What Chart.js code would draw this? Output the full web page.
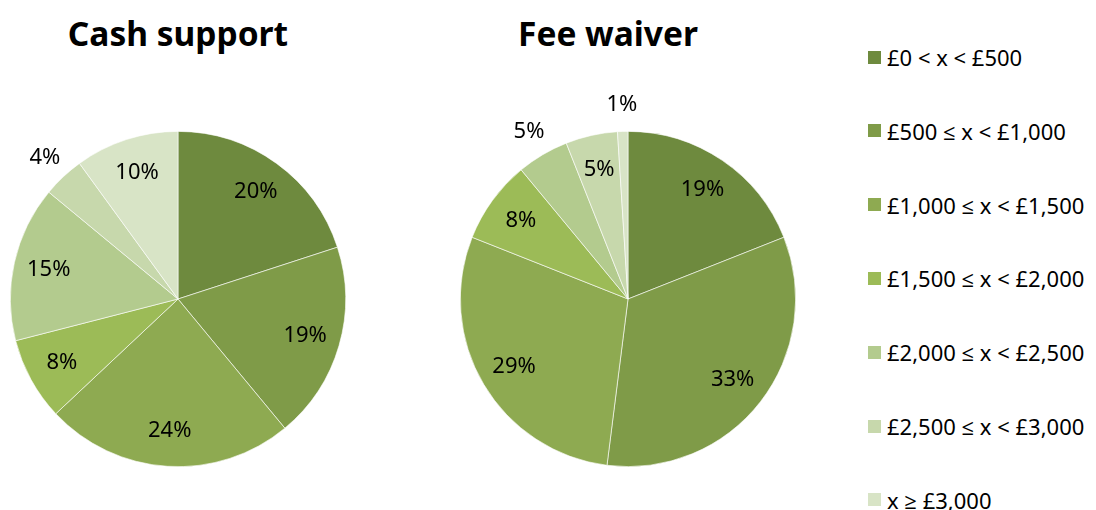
<!DOCTYPE html>
<html>
<head>
<meta charset="utf-8">
<script src="https://cdn.jsdelivr.net/npm/chart.js@4/dist/chart.umd.min.js"></script>
<style>
  html, body { margin: 0; padding: 0; background: #fff; }
  body { width: 1096px; height: 510px; position: relative; overflow: hidden; font-family: "Noto Sans", "Open Sans", sans-serif; }
  canvas { position: absolute; top: 0; }
  .title { position: absolute; top: 11px; font-weight: bold; font-size: 33.5px; line-height: 44px; color: #000; transform: translateX(-50%); white-space: nowrap; }
  .legend { position: absolute; left: 868px; top: 0; }
  .row { position: absolute; left: 0; height: 26px; display: flex; align-items: center; white-space: nowrap; font-size: 22px; color: #000; }
  .sw { width: 13px; height: 13px; margin-right: 6px; flex: none; }
</style>
</head>
<body>
<div class="title" id="t1" style="left:178px"></div>
<div class="title" id="t2" style="left:608px"></div>
<canvas id="c1" width="356" height="510" style="left:0px"></canvas>
<canvas id="c2" width="356" height="510" style="left:450px"></canvas>
<div class="legend" id="legend"></div>
<script>
const categories = ["£0 < x < £500", "£500 ≤ x < £1,000", "£1,000 ≤ x < £1,500", "£1,500 ≤ x < £2,000", "£2,000 ≤ x < £2,500", "£2,500 ≤ x < £3,000", "x ≥ £3,000"];
const chartTitles = ["Cash support", "Fee waiver"];
const cashSupport = [20, 19, 24, 8, 15, 4, 10];
const feeWaiver = [19, 33, 29, 8, 5, 5, 1];
const colors = ["#6e8a3e", "#7f9b48", "#8eaa51", "#9cbb57", "#b3cb8e", "#c7d8ac", "#d8e4c6"];

const labelPlugin = {
  id: 'pctLabels',
  afterDatasetsDraw(chart, args, opts) {
    const ctx = chart.ctx;
    const meta = chart.getDatasetMeta(0);
    const data = chart.data.datasets[0].data;
    ctx.save();
    ctx.font = '22px "Noto Sans", "Open Sans", sans-serif';
    ctx.fillStyle = '#000';
    ctx.textAlign = 'center';
    ctx.textBaseline = 'middle';
    meta.data.forEach((arc, i) => {
      const p = arc.getProps(['x', 'y', 'startAngle', 'endAngle', 'outerRadius'], true);
      const mid = (p.startAngle + p.endAngle) / 2;
      const f = (opts.outside || []).includes(i) ? 1.16 : 0.79;
      const r = p.outerRadius * f;
      ctx.fillText(data[i] + '%', p.x + Math.cos(mid) * r, p.y + Math.sin(mid) * r);
    });
    ctx.restore();
  }
};

function makePie(id, values, outside) {
  return new Chart(document.getElementById(id), {
    type: 'pie',
    data: {
      labels: categories,
      datasets: [{ data: values, backgroundColor: colors, borderColor: 'rgba(255,255,255,0.8)', borderWidth: 0.75 }]
    },
    options: {
      responsive: false,
      devicePixelRatio: 1,
      animation: false,
      layout: { padding: { left: 10, right: 10, top: 131, bottom: 43 } },
      plugins: {
        legend: { display: false },
        tooltip: { enabled: false },
        title: { display: false },
        pctLabels: { outside: outside }
      }
    },
    plugins: [labelPlugin]
  });
}

document.getElementById('t1').textContent = chartTitles[0];
document.getElementById('t2').textContent = chartTitles[1];
makePie('c1', cashSupport, [5]);
makePie('c2', feeWaiver, [4, 6]);

const legend = document.getElementById('legend');
categories.forEach((c, i) => {
  const row = document.createElement('div');
  row.className = 'row';
  row.style.top = (57 + i * 73.8 - 13) + 'px';
  const sw = document.createElement('span');
  sw.className = 'sw';
  sw.style.background = colors[i];
  const tx = document.createElement('span');
  tx.textContent = c;
  row.appendChild(sw);
  row.appendChild(tx);
  legend.appendChild(row);
});
</script>
</body>
</html>
